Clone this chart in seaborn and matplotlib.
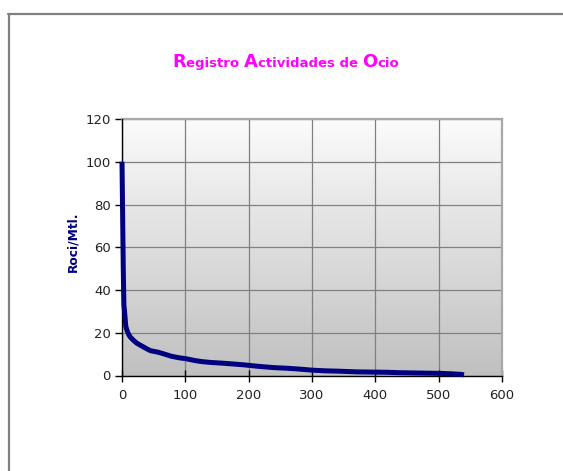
import numpy as np
import pandas as pd
import matplotlib
matplotlib.use("Agg")
import matplotlib.pyplot as plt
from matplotlib.lines import Line2D
from matplotlib.ticker import MultipleLocator
import seaborn as sns

# Ranked leisure-activity records: position vs. Roci/Mtl.
rank = [0, 1, 2, 3, 4, 6, 8, 10, 13, 18, 23, 30, 39, 45, 57, 65, 78, 90,
        102, 115, 126, 140, 157, 175, 192, 215, 239, 260, 280, 300, 320,
        344, 370, 392, 418, 440, 460, 480, 502, 520, 536, 540]
roci = [100, 75, 50, 33, 30, 23, 21, 19.5, 18, 16.5, 15.2, 14, 12.5, 11.6,
        10.9, 10.2, 9.0, 8.3, 7.8, 7.0, 6.5, 6.1, 5.8, 5.4, 5.0, 4.3, 3.7,
        3.4, 3.0, 2.5, 2.2, 2.0, 1.7, 1.6, 1.5, 1.3, 1.2, 1.1, 1.0, 0.8,
        0.5, 0.3]

# title split into capital / lower-case runs (capitals set larger)
title_parts = ["R", "egistro ", "A", "ctividades de ", "O", "cio"]
ylabel_text = "Roci/Mtl."

df = pd.DataFrame({"rank": rank, "roci": roci})

sns.set_style("white")
plt.rcParams["font.family"] = ["DejaVu Sans"]

W, H = 563, 471
fig = plt.figure(figsize=(W / 100, H / 100), dpi=100)
fig.patch.set_facecolor("white")

left, right = 122 / W, 502 / W
bottom, top = 1 - 375.5 / H, 1 - 119 / H
ax = fig.add_axes([left, bottom, right - left, top - bottom])

# vertical grey gradient behind the plot area (light at top)
grad = np.linspace(0, 1, 256).reshape(-1, 1)
cmap = matplotlib.colors.LinearSegmentedColormap.from_list(
    "bg", ["#fbfbfb", "#c0c0c0"])
ax.imshow(grad, cmap=cmap, aspect="auto", extent=[0, 600, 0, 120],
          origin="upper", zorder=0, interpolation="bilinear")

sns.lineplot(data=df, x="rank", y="roci", ax=ax, color="#000080",
             linewidth=3.6, zorder=5, solid_capstyle="butt")
for ln in ax.get_lines():
    ln.set_clip_on(False)

ax.set_xlim(0, 600)
ax.set_ylim(0, 120)
ax.xaxis.set_major_locator(MultipleLocator(100))
ax.xaxis.set_minor_locator(MultipleLocator(20))
ax.yaxis.set_major_locator(MultipleLocator(20))

ax.grid(True, which="major", color="#808080", linewidth=0.9, zorder=1)
ax.set_axisbelow(True)

for s in ["left", "bottom"]:
    ax.spines[s].set_color("black")
    ax.spines[s].set_linewidth(1.0)
    ax.spines[s].set_zorder(4)
for s in ["top", "right"]:
    ax.spines[s].set_color("#a8a8a8")
    ax.spines[s].set_linewidth(1.6)

ax.tick_params(axis="x", which="major", direction="inout", length=8,
               width=1, color="black", labelsize=9.5, labelcolor="#222222",
               pad=6)
ax.tick_params(axis="x", which="minor", direction="in", length=4,
               width=1, color="black")
ax.tick_params(axis="y", which="major", direction="out", length=5,
               width=1, color="black", labelsize=9.5, labelcolor="#222222",
               pad=3)
ax.tick_params(left=True, bottom=True)

ax.set_xlabel("")
ax.set_ylabel(ylabel_text, color="#000080", fontsize=8.8, fontweight="bold")
ax.yaxis.set_label_coords((79 - 122) / 380, 0.52)

# title: runs laid out left to right on a shared baseline
renderer = fig.canvas.get_renderer()
sizes = [13 if p[0].isupper() else 9.5 for p in title_parts]
pieces = []
for p, s in zip(title_parts, sizes):
    t = fig.text(0, 1 - 67 / H, p, ha="left", va="baseline",
                 color="#ff00ff", fontsize=s, fontweight="bold")
    pieces.append(t)
widths = [t.get_window_extent(renderer).width for t in pieces]
x = 286 - sum(widths) / 2
for t, w in zip(pieces, widths):
    t.set_x(x / W)
    x += w

# outer chart frame (left and top edges)
fig.add_artist(Line2D([8.5 / W, 8.5 / W], [0, 1 - 13.5 / H],
                      transform=fig.transFigure, color="#808080",
                      linewidth=1.6))
fig.add_artist(Line2D([8 / W, 1], [1 - 13.5 / H, 1 - 13.5 / H],
                      transform=fig.transFigure, color="#808080",
                      linewidth=1.6))

fig.savefig("out.png", dpi=100, facecolor="white")
